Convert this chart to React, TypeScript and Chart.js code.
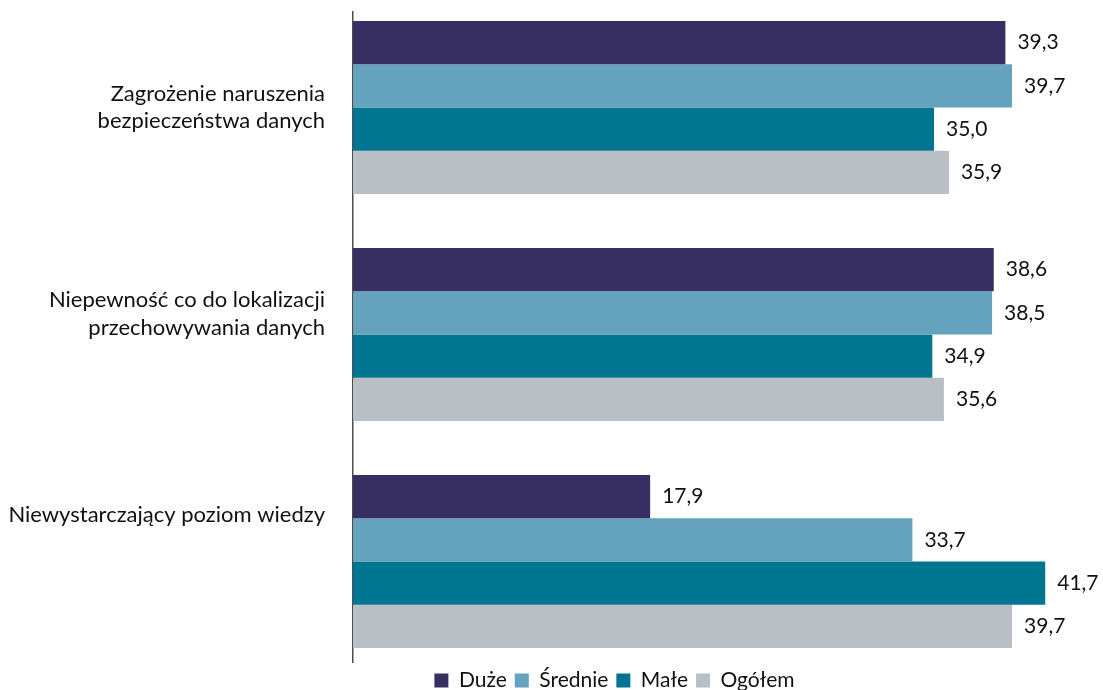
import React, { useEffect, useRef } from 'react';
import { Chart, registerables } from 'chart.js';

Chart.register(...registerables);

// ---- data ----
const categories: string[][] = [
  ['Zagrożenie naruszenia', 'bezpieczeństwa danych'],
  ['Niepewność co do lokalizacji', 'przechowywania danych'],
  ['Niewystarczający poziom wiedzy'],
];
const seriesNames = ['Duże', 'Średnie', 'Małe', 'Ogółem'];
const duze = [39.3, 38.6, 17.9];
const srednie = [39.7, 38.5, 33.7];
const male = [35.0, 34.9, 41.7];
const ogolem = [35.9, 35.6, 39.7];

// ---- style ----
const colors = ['#372E62', '#65A2BD', '#007591', '#BABFC6'];
const labelAnchors = [0, 0.91, 1.795];
const TEXT = '#111111';
const FONT = 'Lato';

const categoryLabels = {
  id: 'categoryLabels',
  afterDraw(chart: any) {
    const { ctx, chartArea } = chart;
    const y = chart.scales.y;
    ctx.save();
    ctx.font = `22px ${FONT}`;
    ctx.fillStyle = TEXT;
    ctx.textAlign = 'right';
    ctx.textBaseline = 'middle';
    const lh = 27.5;
    categories.forEach((lines, i) => {
      const c = y.getPixelForValue(labelAnchors[i]);
      const y0 = c - ((lines.length - 1) * lh) / 2;
      lines.forEach((t, k) => ctx.fillText(t, chartArea.left - 28, y0 + k * lh));
    });
    ctx.restore();
  },
};

const valueLabels = {
  id: 'valueLabels',
  afterDatasetsDraw(chart: any) {
    const ctx = chart.ctx;
    ctx.save();
    ctx.font = `21px ${FONT}`;
    ctx.fillStyle = TEXT;
    ctx.textAlign = 'left';
    ctx.textBaseline = 'middle';
    chart.data.datasets.forEach((ds: any, di: number) => {
      const meta = chart.getDatasetMeta(di);
      meta.data.forEach((bar: any, i: number) => {
        const v = ds.data[i].x as number;
        ctx.fillText(v.toFixed(1).replace('.', ','), bar.x + 12, bar.y);
      });
    });
    ctx.restore();
  },
};

export default function App() {
  const ref = useRef<HTMLCanvasElement | null>(null);
  useEffect(() => {
    if (!ref.current) return;
    const series = [duze, srednie, male, ogolem];
    const chart = new Chart(ref.current, {
      type: 'bar',
      data: {
        datasets: series.map((vals, si) => ({
          label: seriesNames[si],
          data: vals.map((v, i) => ({ x: v, y: i })),
          backgroundColor: colors[si],
          borderWidth: 0,
          categoryPercentage: 0.762,
          barPercentage: 1,
        })),
      },
      options: {
        indexAxis: 'y',
        responsive: false,
        animation: false,
        devicePixelRatio: 1,
        layout: { padding: { left: 129, right: 3, top: 12, bottom: 0 } },
        scales: {
          x: { display: false, min: 0, max: 45 },
          y: {
            type: 'linear',
            reverse: true,
            bounds: 'data',
            offset: false,
            grace: 0,
            min: -0.4207,
            max: 2.4427,
            ticks: { display: false, stepSize: 1, includeBounds: false },
            grid: { display: false, drawTicks: false },
            border: { display: true, color: '#4d4d4d', width: 1.5 },
            afterBuildTicks: (s: any) => {
              s.ticks = categories.map((_, i) => ({ value: i }));
            },
            afterFit: (s: any) => {
              s.width = 224;
            },
          },
        },
        plugins: {
          legend: {
            position: 'bottom',
            labels: {
              boxWidth: 14,
              boxHeight: 14,
              padding: 8,
              color: TEXT,
              font: { family: FONT, size: 21 },
            },
          },
          tooltip: { enabled: false },
        },
      } as any,
      plugins: [valueLabels, categoryLabels],
    });
    return () => chart.destroy();
  }, []);

  return (
    <div style={{ position: 'fixed', left: 0, top: 0, width: 1103, height: 690, overflow: 'hidden', background: '#fff' }}>
      <canvas ref={ref} width={1103} height={701} style={{ display: 'block' }} />
    </div>
  );
}
